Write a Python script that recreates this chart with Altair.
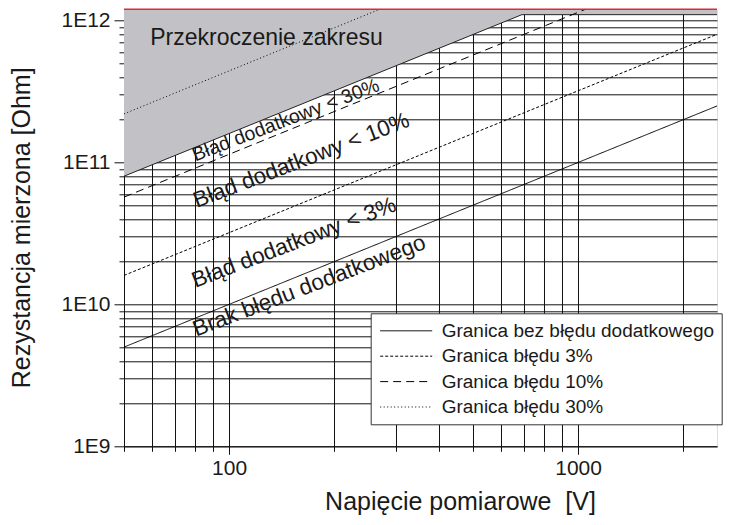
import altair as alt
import pandas as pd

FONT = "Liberation Sans"
TXT = "#1a1a1a"

# ---- axis ticks / labels ----
x_ticks = [50, 60, 70, 80, 90, 100, 200, 300, 400, 500, 600, 700, 800, 900, 1000, 2000]
x_major = [100, 1000]
y_ticks = [1e9, 2e9, 3e9, 4e9, 5e9, 6e9, 7e9, 8e9, 9e9,
           1e10, 2e10, 3e10, 4e10, 5e10, 6e10, 7e10, 8e10, 9e10,
           1e11, 2e11, 3e11, 4e11, 5e11, 6e11, 7e11, 8e11, 9e11, 1e12]
y_major = [1e9, 1e10, 1e11, 1e12]
x_domain = [50, 2500]
y_domain = [1e9, 1.2e12]

# ---- series ----
series_names = ["Granica bez błędu dodatkowego", "Granica błędu 3%",
                "Granica błędu 10%", "Granica błędu 30%"]
v_none = [50, 2500]
r_none = [5.0e9, 2.5e11]
v_3 = [50, 2500]
r_3 = [1.6e10, 8.0e11]
v_10 = [50, 1050]
r_10 = [5.7e10, 1.2e12]
v_30 = [50, 270]
r_30 = [2.2e11, 1.2e12]
dashes = [[1, 0], [3, 2], [8, 5], [1, 2.5]]

# over-range region boundary
limit_v = [50, 690, 2500]
limit_r = [8.0e10, 1.1e12, 1.1e12]
range_top = 1.2e12

# annotations
ann_text = ["Brak błędu dodatkowego", "Błąd dodatkowy < 3%",
            "Błąd dodatkowy < 10%", "Błąd dodatkowy < 30%"]
ann_v = [172.5, 155.9, 163.8, 147.5]
ann_r = [1.215e10, 2.45e10, 9.29e10, 1.81e11]
ann_size = [22.5, 22.5, 22.5, 19.5]
over_text = ["Przekroczenie zakresu"]
over_v = [128]
over_r = [7.55e11]

# ---- tables ----
lines_df = pd.concat([
    pd.DataFrame({"V": v, "R": r, "series": name})
    for v, r, name in zip([v_none, v_3, v_10, v_30], [r_none, r_3, r_10, r_30], series_names)
], ignore_index=True)
area_df = pd.DataFrame({"V": limit_v, "R": limit_r, "R2": [range_top] * len(limit_v)})
top_df = pd.DataFrame({"R": [range_top]})
ann_df = pd.DataFrame({"V": ann_v, "R": ann_r, "t": ann_text, "fs": ann_size})
over_df = pd.DataFrame({"V": over_v, "R": over_r, "t": over_text})

x_test = " || ".join(f"datum.value == {v}" for v in x_major)
y_test = " || ".join(f"datum.value == {v:.0e}".replace("+", "") for v in y_major)

x_axis = alt.Axis(
    values=x_ticks, grid=True, gridColor="#111111", gridWidth=1,
    domainColor="#111111", tickColor="#111111",
    tickSize={"condition": {"test": x_test, "value": 8}, "value": 5},
    labelExpr=f"({x_test}) ? format(datum.value, 'd') : ''",
    labelFont=FONT, labelFontSize=21, labelColor=TXT, labelPadding=3,
    labelOverlap=False, labelFlush=False,
    title="Napięcie pomiarowe \u00a0[V]", titleFont=FONT, titleFontSize=25,
    titleFontWeight="normal", titleColor=TXT, titleX=336, titleY=63.5,
    titleAlign="center", titleBaseline="alphabetic", titleAngle=0,
)
y_axis = alt.Axis(
    values=y_ticks, grid=True, gridColor="#111111", gridWidth=1,
    domainColor="#111111", tickColor="#111111",
    tickSize={"condition": {"test": y_test, "value": 10}, "value": 5},
    labelExpr=f"({y_test}) ? '1E' + round(log(datum.value)/LN10) : ''",
    labelFont=FONT, labelFontSize=21, labelColor=TXT, labelPadding=4,
    labelOverlap=False, labelFlush=False,
    title="Rezystancja mierzona [Ohm]", titleFont=FONT, titleFontSize=25,
    titleFontWeight="normal", titleColor=TXT, titleX=-103, titleY=218,
    titleAlign="center", titleBaseline="middle", titleAngle=270,
)

xs = alt.Scale(type="log", domain=x_domain, nice=False)
ys = alt.Scale(type="log", domain=y_domain, nice=False)


def X():
    return alt.X("V:Q", scale=xs, axis=x_axis)


def Y():
    return alt.Y("R:Q", scale=ys, axis=y_axis)


area = alt.Chart(area_df).mark_area(color="#c2c2c6", opacity=1).encode(
    x=X(), y=Y(), y2="R2:Q")
boundary = alt.Chart(area_df).mark_line(color="#222222", strokeWidth=1).encode(x=X(), y=Y())

lines = alt.Chart(lines_df).mark_line(color="black", strokeWidth=1).encode(
    x=X(), y=Y(),
    strokeDash=alt.StrokeDash(
        "series:N",
        scale=alt.Scale(domain=series_names, range=dashes),
        legend=alt.Legend(
            title=None, orient="none", legendX=246.7, legendY=304,
            fillColor="white", strokeColor="#333333", padding=7,
            labelFont=FONT, labelFontSize=19, labelColor=TXT, labelLimit=500,
            rowPadding=4.4, symbolType="M-2.6,0H2.6", symbolSize=400,
            symbolOffset=18, labelOffset=25, symbolStrokeColor="black",
            symbolStrokeWidth=1,
        ),
    ),
)

top_rule = alt.Chart(top_df).mark_rule(color="#e0282e", strokeWidth=1.5).encode(y=Y())

ann = alt.Chart(ann_df).mark_text(
    angle=339, align="center", baseline="alphabetic", font=FONT, color=TXT
).encode(x=X(), y=Y(), text="t:N", size=alt.Size("fs:Q", scale=None))

over = alt.Chart(over_df).mark_text(
    align="center", baseline="middle", font=FONT, fontSize=23, color=TXT
).encode(x=X(), y=Y(), text="t:N")

chart = alt.layer(area, boundary, lines, top_rule, ann, over).properties(
    width=593, height=437,
    padding={"left": 116, "top": 1.3, "right": 6, "bottom": 70.5},
    autosize=alt.AutoSizeParams(type="none"),
).configure_view(stroke=None).configure(font=FONT)

chart.save("out.html", embed_options={"renderer": "svg", "actions": False})
